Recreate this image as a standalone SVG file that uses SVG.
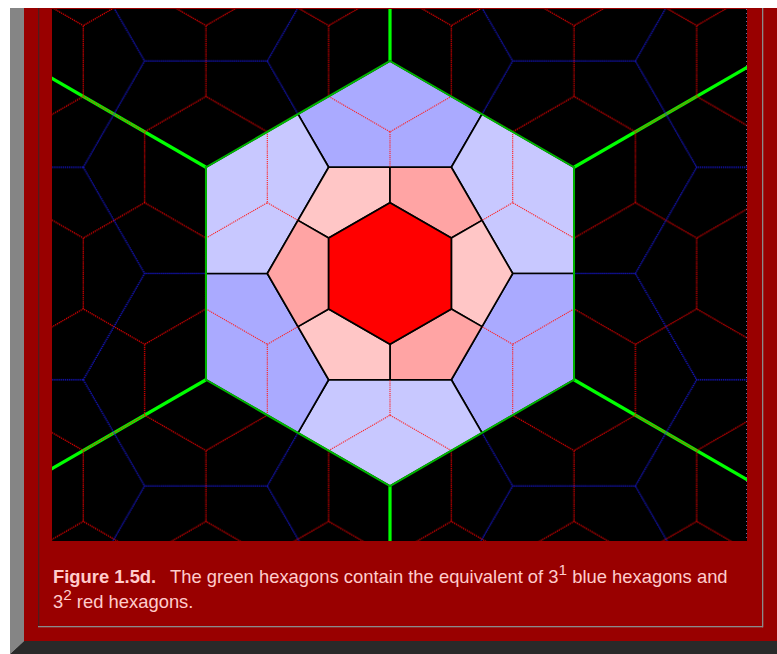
<svg xmlns="http://www.w3.org/2000/svg" xmlns:xlink="http://www.w3.org/1999/xlink" width="777" height="654" viewBox="0 0 777 654">
  <style>
    .rdot { fill: none; stroke: #ff0000; stroke-width: 1.2; stroke-dasharray: 1.2 0.9; }
    .bdot { fill: none; stroke: #1a1aff; stroke-width: 1.2; stroke-dasharray: 1.2 0.9; }
    .spoke { fill: none; stroke: #00ff00; stroke-width: 3.2; stroke-linecap: butt; }
    .piece { stroke: #000000; stroke-width: 1.7; stroke-linejoin: round; }
    .rl { fill: #ffc6c6; }
    .rd { fill: #ffa4a4; }
    .bl { fill: #c8c8ff; }
    .bd { fill: #aaaaff; }
    .inner { fill: none; stroke: #ff2020; stroke-width: 1.1; stroke-dasharray: 1.2 0.9; }
    .cap { font-family: "Liberation Sans", Arial, sans-serif; font-size: 18.4px; fill: #ffcccc; }
  </style>
  <defs>
    <path id="rh" d="M-61.344,35.417 L-61.344,-35.417 L0,-70.833 L61.344,-35.417"/>
    <path id="bh" d="M-122.687,0 L-61.344,-106.25 L61.344,-106.25 L122.687,0"/>
    <pattern id="redTile" patternUnits="userSpaceOnUse" x="359.328" y="220.375" width="122.687" height="212.5">
      <g class="rdot">
        <use xlink:href="#rh" x="30.672" y="53.125"/>
        <use xlink:href="#rh" x="153.359" y="53.125"/>
        <use xlink:href="#rh" x="30.672" y="265.625"/>
        <use xlink:href="#rh" x="153.359" y="265.625"/>
        <use xlink:href="#rh" x="92.015" y="159.375"/>
        <use xlink:href="#rh" x="-30.672" y="159.375"/>
      </g>
    </pattern>
    <pattern id="blueTile" patternUnits="userSpaceOnUse" x="267.313" y="123.5" width="368.061" height="212.5">
      <g class="bdot">
        <use xlink:href="#bh" x="122.687" y="150"/>
        <use xlink:href="#bh" x="306.718" y="256.25"/>
        <use xlink:href="#bh" x="306.718" y="43.75"/>
        <use xlink:href="#bh" x="-61.344" y="256.25"/>
        <use xlink:href="#bh" x="-61.344" y="43.75"/>
      </g>
    </pattern>
    <clipPath id="imgClip">
      <rect x="52" y="9" width="695" height="532"/>
    </clipPath>
  </defs>

  <!-- page frame -->
  <g id="frame">
    <rect x="0" y="0" width="777" height="654" fill="#ffffff"/>
    <polygon points="10,8 24,8 24,641 10,654" fill="#858585"/>
    <polygon points="10,654 24,641 777,641 777,654" fill="#292929"/>
    <rect x="24" y="8" width="753" height="633" fill="#990000"/>
    <rect x="38" y="8" width="1.3" height="619" fill="#4f1c1c"/>
    <rect x="38" y="626" width="725" height="1.3" fill="#8a8a8a"/>
    <rect x="762" y="8" width="1.3" height="619.3" fill="#8a8a8a"/>
  </g>

  <!-- picture -->
  <g id="picture" clip-path="url(#imgClip)">
    <rect x="52" y="9" width="695" height="532" fill="#000000"/>
    <g id="green-spokes" class="spoke">
      <line x1="205.97" y1="167.25" x2="40" y2="71.43"/>
      <line x1="574.03" y1="167.25" x2="760" y2="59.88"/>
      <line x1="574.03" y1="379.75" x2="760" y2="487.12"/>
      <line x1="205.97" y1="379.75" x2="40" y2="475.57"/>
      <line x1="390" y1="61" x2="390" y2="0"/>
      <line x1="390" y1="486" x2="390" y2="560"/>
    </g>
    <rect id="red-tiling" x="52" y="9" width="695" height="532" fill="url(#redTile)"/>
    <rect id="blue-tiling" x="52" y="9" width="695" height="532" fill="url(#blueTile)"/>
    <line x1="746.5" y1="9" x2="746.5" y2="541" stroke="#6a6aa0" stroke-width="1" stroke-dasharray="1 3"/>

    <g id="green-hexagon">
      <g id="blue-pieces" class="piece">
        <polygon class="bd" points="390,61 482.01,114.13 451.34,167.25 328.66,167.25 297.99,114.13"/>
        <polygon class="bl" points="574.03,167.25 574.03,273.5 512.69,273.5 451.34,167.25 482.01,114.13"/>
        <polygon class="bd" points="574.03,379.75 482.01,432.87 451.34,379.75 512.69,273.5 574.03,273.5"/>
        <polygon class="bl" points="390,486 297.99,432.87 328.66,379.75 451.34,379.75 482.01,432.87"/>
        <polygon class="bd" points="205.97,379.75 205.97,273.5 267.31,273.5 328.66,379.75 297.99,432.87"/>
        <polygon class="bl" points="205.97,167.25 297.99,114.13 328.66,167.25 267.31,273.5 205.97,273.5"/>
      </g>
      <g id="red-pieces" class="piece">
        <polygon class="rl" points="328.66,167.25 390,167.25 390,202.67 328.66,238.08 297.99,220.38"/>
        <polygon class="rd" points="451.34,167.25 482.01,220.38 451.34,238.08 390,202.67 390,167.25"/>
        <polygon class="rl" points="512.69,273.5 482.01,326.62 451.34,308.92 451.34,238.08 482.01,220.38"/>
        <polygon class="rd" points="451.34,379.75 390,379.75 390,344.33 451.34,308.92 482.01,326.62"/>
        <polygon class="rl" points="328.66,379.75 297.99,326.62 328.66,308.92 390,344.33 390,379.75"/>
        <polygon class="rd" points="267.31,273.5 297.99,220.38 328.66,238.08 328.66,308.92 297.99,326.62"/>
      </g>
      <polygon id="red-center" class="piece" fill="#ff0000" points="390,202.67 451.34,238.08 451.34,308.92 390,344.33 328.66,308.92 328.66,238.08"/>
      <path id="inner-red-edges" class="inner" d="M328.66,96.42 L390,131.83 L451.34,96.42 M390,131.83 L390,167.25 M512.69,131.84 L512.69,202.67 L574.03,238.08 M512.69,202.67 L482.01,220.38 M574.03,308.92 L512.69,344.33 L512.69,415.16 M512.69,344.33 L482.01,326.62 M451.34,450.58 L390,415.17 L328.66,450.58 M390,415.17 L390,379.75 M267.31,415.16 L267.31,344.33 L205.97,308.92 M267.31,344.33 L297.99,326.62 M205.97,238.08 L267.31,202.67 L267.31,131.84 M267.31,202.67 L297.99,220.38"/>
      <polygon id="green-outline" fill="none" stroke="#00b400" stroke-width="2" points="390,61 574.03,167.25 574.03,379.75 390,486 205.97,379.75 205.97,167.25"/>
    </g>
  </g>

  <!-- caption -->
  <g id="caption" class="cap">
    <text x="53" y="583.3"><tspan font-weight="bold">Figure 1.5d.</tspan><tspan x="170">The green hexagons contain the equivalent of 3</tspan><tspan font-size="15.3" dy="-8">1</tspan><tspan dy="8"> blue hexagons and</tspan></text>
    <text x="53" y="608.3">3<tspan font-size="15.3" dy="-8">2</tspan><tspan dy="8"> red hexagons.</tspan></text>
  </g>
</svg>
